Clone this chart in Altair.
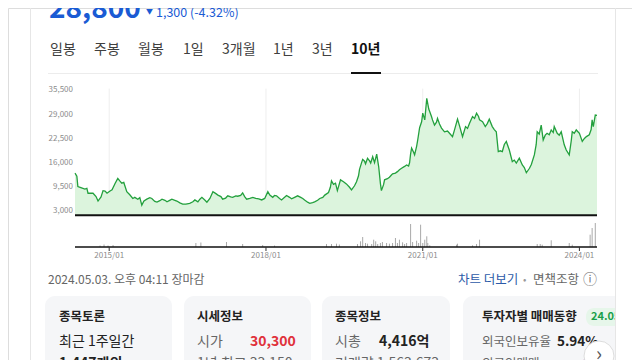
import altair as alt
import pandas as pd

FONT = "Noto Sans CJK KR"

# ---------------- data ----------------
dates = ["2014-05-07","2014-05-20","2014-05-27","2014-06-17","2014-07-15","2014-07-29","2014-08-06","2014-09-10","2014-10-01","2014-10-15",
 "2014-11-05","2014-11-19","2014-12-03","2014-12-17","2015-01-07","2015-01-21","2015-02-11","2015-03-02","2015-03-16","2015-03-30",
 "2015-04-13","2015-05-04","2015-05-25","2015-06-15","2015-06-29","2015-07-20","2015-08-03","2015-08-17","2015-09-01","2015-09-21",
 "2015-10-12","2015-10-26","2015-11-16","2015-12-01","2015-12-21","2016-01-05","2016-01-26","2016-02-09","2016-02-28","2016-03-14",
 "2016-04-04","2016-04-18","2016-05-09","2016-05-29","2016-06-20","2016-07-17","2016-08-08","2016-08-22","2016-09-12","2016-09-26",
 "2016-10-10","2016-11-01","2016-11-14","2016-12-05","2016-12-26","2017-01-16","2017-01-30","2017-02-20","2017-03-04","2017-03-25",
 "2017-04-09","2017-04-29","2017-05-13","2017-06-04","2017-06-17","2017-07-08","2017-07-22","2017-08-05","2017-08-19","2017-09-10",
 "2017-10-01","2017-10-21","2017-11-12","2017-12-02","2017-12-23","2018-01-14","2018-01-28","2018-02-17","2018-03-02","2018-03-16",
 "2018-04-06","2018-04-20","2018-05-11","2018-05-25","2018-06-15","2018-06-29","2018-07-20","2018-08-10","2018-09-01","2018-09-15",
 "2018-09-28","2018-10-19","2018-11-03","2018-11-23","2018-12-07","2018-12-28","2019-01-12","2019-02-02","2019-02-16","2019-03-14",
 "2019-03-27","2019-04-04","2019-04-18","2019-05-02","2019-05-15","2019-06-06","2019-06-27","2019-07-17","2019-08-08","2019-08-22",
 "2019-09-12","2019-09-26","2019-10-10","2019-10-17","2019-11-01","2019-11-08","2019-11-21","2019-11-28","2019-12-12","2019-12-26",
 "2020-01-03","2020-01-17","2020-01-30","2020-02-14","2020-02-28","2020-03-11","2020-03-18","2020-04-02","2020-04-09","2020-04-29",
 "2020-05-13","2020-05-27","2020-06-04","2020-06-24","2020-07-08","2020-07-22","2020-08-06","2020-08-27","2020-09-10","2020-09-24",
 "2020-10-01","2020-10-08","2020-10-15","2020-10-29","2020-11-05","2020-11-19","2020-11-26","2020-12-10","2020-12-24","2021-01-01",
 "2021-01-15","2021-01-22","2021-01-29","2021-02-12","2021-02-19","2021-03-03","2021-03-10","2021-03-24","2021-04-07","2021-04-14",
 "2021-04-28","2021-05-12","2021-06-02","2021-06-23","2021-07-07","2021-07-28","2021-08-11","2021-09-01","2021-09-15","2021-10-06",
 "2021-10-27","2021-11-10","2021-11-24","2021-12-15","2021-12-29","2022-01-12","2022-01-26","2022-02-02","2022-02-23","2022-03-14",
 "2022-03-28","2022-04-11","2022-05-02","2022-05-16","2022-05-30","2022-06-13","2022-06-27","2022-07-11","2022-07-25","2022-08-08",
 "2022-08-29","2022-09-19","2022-10-03","2022-10-17","2022-11-07","2022-11-28","2022-12-12","2022-12-26","2023-01-17","2023-01-30",
 "2023-02-20","2023-03-05","2023-03-12","2023-03-26","2023-04-09","2023-04-23","2023-05-07","2023-05-20","2023-06-04","2023-06-18",
 "2023-07-02","2023-07-09","2023-07-30","2023-08-13","2023-08-27","2023-09-17","2023-10-01","2023-10-22","2023-11-05","2023-11-12",
 "2023-11-26","2023-12-10","2024-01-01","2024-01-21","2024-02-05","2024-02-19","2024-03-10","2024-03-23","2024-03-30","2024-04-07",
 "2024-04-21","2024-05-03"]

prices = [13300,12500,9700,9400,9000,9200,7900,7900,7000,5800,
 6900,8600,8500,7900,8500,8800,10500,11900,11200,10600,
 10800,8300,7500,6500,6800,6300,6700,4700,5800,6300,
 6700,6500,5700,5500,5900,6300,6000,5600,6000,6300,
 6000,5800,5300,5000,5000,5200,5600,6100,5600,6300,
 6800,6000,5500,6500,8300,7800,7400,7000,6300,6600,
 7200,6900,6800,7200,7100,7300,8000,7000,6300,6500,
 6800,6500,6400,6100,6500,8300,7400,6800,7300,7200,
 6500,6100,6800,7300,6800,6400,6800,7200,6800,6500,
 6100,5500,5200,5400,5600,6000,6500,6800,7400,8100,
 9500,11200,10300,10600,8600,11500,11000,10400,9500,8800,
 9900,11000,12600,14300,16200,17000,16500,15800,17300,16600,
 16000,17700,16100,18400,15000,10500,8600,10200,11500,11800,
 12200,12800,13100,13300,13700,14200,14600,15100,15500,15200,
 16100,18500,20000,18900,18200,20500,22000,25500,27100,29400,
 27600,30500,33400,30500,29800,28500,27600,26200,27000,28000,
 26500,25400,24400,24600,24000,23100,24900,27800,26000,23100,
 25800,25300,26700,28500,28000,29400,28500,27600,27100,25800,
 26600,27800,25800,25000,24400,19100,19300,19100,21000,21800,
 19500,16400,16800,16000,17300,15500,14800,13400,14600,15600,
 18200,21000,24400,23800,26200,22200,23500,24000,23600,24900,
 24200,25800,24000,23500,24400,20900,19500,18200,22000,24400,
 24000,24900,24000,21800,22600,23100,23600,25000,27600,25800,
 28900,28800]

vol_dates = ["2014-10-29","2014-11-26","2014-12-24","2015-01-28","2016-08-29","2016-10-03","2017-03-31","2017-07-22","2017-12-09","2018-03-02",
 "2019-02-28","2019-04-04","2019-05-09","2019-05-29","2019-10-03","2019-10-24","2019-11-08","2019-11-28","2019-12-12","2020-01-10",
 "2020-01-24","2020-02-07","2020-02-21","2020-03-11","2020-03-25","2020-04-23","2020-05-13","2020-06-04","2020-06-24","2020-07-08",
 "2020-07-22","2020-08-13","2020-08-27","2020-09-10","2020-10-08","2020-10-22","2020-11-19","2020-12-03","2020-12-17","2021-01-01",
 "2021-01-15","2021-01-29","2021-02-05","2021-02-19","2021-08-25","2021-09-01","2021-12-15","2022-01-12","2022-02-02","2023-03-12",
 "2023-04-02","2023-04-16","2023-06-18","2023-10-22","2023-11-12","2024-03-16","2024-03-30","2024-04-21"]
vol_values = [150,250,150,200,400,450,500,300,200,150,
 300,300,330,250,300,570,1000,400,330,300,
 730,570,300,400,500,400,330,400,900,400,
 730,470,300,400,2300,500,630,400,2230,400,
 730,1070,400,170,230,330,170,300,730,300,
 300,230,670,400,230,1230,1900,2400]

y_ticks = [3000, 9500, 16000, 22500, 29000, 35500]
y_tick_labels = ["3,000", "9,500", "16,000", "22,500", "29,000", "35,500"]
x_ticks = ["2015-01-01", "2018-01-01", "2021-01-01", "2024-01-01"]
x_tick_labels = ["2015/01", "2018/01", "2021/01", "2024/01"]

tabs = ["일봉", "주봉", "월봉", "1일", "3개월", "1년", "3년", "10년"]

# ---------------- frames ----------------
price_df = pd.DataFrame({"date": dates, "price": prices})
vol_df = pd.DataFrame({"date": vol_dates, "volume": vol_values})
ytick_df = pd.DataFrame({"v": y_ticks, "label": y_tick_labels})
xtick_df = pd.DataFrame({"date": x_ticks, "label": x_tick_labels})
edge_df = pd.DataFrame({"date": [dates[0]], "date2": [dates[-1]]})
one = pd.DataFrame({"k": [0]})

O = 8  # page margin offset

xs = alt.Scale(domain=[alt.DateTime(year=2014, month=5, date=7), alt.DateTime(year=2024, month=5, date=3)],
               range=[75 - O, 597 - O])
ys = alt.Scale(domain=[2000, 36000], range=[215.2 - O, 88.6 - O], zero=False, nice=False)
vs = alt.Scale(domain=[0, 2400], range=[247 - O, 223 - O], zero=False, nice=False)

X = alt.X("date:T", scale=xs, axis=None)

FILL = "#dcf4dd"
LINE = "#23a03d"
BLUE = "#1a5bd4"

layers = []

# gridlines
layers.append(alt.Chart(ytick_df[ytick_df.v > 3000]).mark_rule(color="#eeeeee", strokeWidth=1).encode(
    y=alt.Y("v:Q", scale=ys, axis=None),
    x=alt.X("date:T", scale=xs, axis=None), x2="date2:T"
).transform_calculate(date="'" + dates[0] + "'", date2="'" + dates[-1] + "'"))
layers.append(alt.Chart(xtick_df).mark_rule(color="#eeeeee", strokeWidth=1).encode(
    x=X, y=alt.Y("lo:Q", scale=ys, axis=None), y2="hi:Q"
).transform_calculate(lo="2000", hi="36000"))

# price area + line
layers.append(alt.Chart(price_df).mark_area(color=FILL, opacity=1).encode(
    x=X, y=alt.Y("price:Q", scale=ys, axis=None), y2=alt.datum(2000)))
layers.append(alt.Chart(price_df).mark_line(color=LINE, strokeWidth=1.3).encode(
    x=X, y=alt.Y("price:Q", scale=ys, axis=None)))

# baseline of price panel
layers.append(alt.Chart(edge_df).mark_rule(color="#111111", strokeWidth=2).encode(
    x=X, x2="date2:T", y=alt.Y("b:Q", scale=ys, axis=None)).transform_calculate(b="2000"))

# y labels
layers.append(alt.Chart(ytick_df).mark_text(align="right", baseline="middle", fontSize=8, color="#8c8c8c", font=FONT).encode(
    x=alt.value(73 - O), y=alt.Y("v:Q", scale=ys, axis=None), text="label:N"))

# volume
layers.append(alt.Chart(vol_df).mark_rule(color="#a9a9a9", strokeWidth=1).encode(
    x=X, y=alt.Y("volume:Q", scale=vs, axis=None), y2=alt.datum(0)))
layers.append(alt.Chart(edge_df).mark_rule(color="#111111", strokeWidth=1.5).encode(
    x=X, x2="date2:T", y=alt.Y("b:Q", scale=vs, axis=None)).transform_calculate(b="0"))

# x ticks + labels
layers.append(alt.Chart(xtick_df).mark_rule(color="#333333", strokeWidth=1).encode(
    x=X, y=alt.value(247 - O), y2=alt.value(251 - O)))
layers.append(alt.Chart(xtick_df).mark_text(align="center", baseline="middle", fontSize=8, color="#8c8c8c", font=FONT).encode(
    x=X, y=alt.value(256 - O), text="label:N"))


def txt(s, x, y, size=12, color="#333333", weight="normal", align="left", baseline="middle"):
    return alt.Chart(one).mark_text(text=s, fontSize=size, color=color, fontWeight=weight, align=align,
                                    baseline=baseline, font=FONT).encode(x=alt.value(x - O), y=alt.value(y - O))


def box(x1, x2, y1, y2, color, r=0):
    return alt.Chart(one).mark_rect(color=color, cornerRadius=r).encode(
        x=alt.value(x1 - O), x2=alt.value(x2 - O), y=alt.value(y1 - O), y2=alt.value(y2 - O))


# frame
layers.append(box(30, 31, 8, 370, "#e6e6e6"))
layers.append(box(615, 616, 8, 370, "#e6e6e6"))

# header
layers.append(txt("28,800", 49, 18, size=28, color=BLUE, weight="bold", baseline="alphabetic"))
layers.append(txt("▼", 146, 12, size=7, color=BLUE))
layers.append(txt("1,300 (-4.32%)", 156, 17, size=12.5, color=BLUE, baseline="alphabetic"))

# tabs
tab_x = [50, 94, 138, 183, 222, 273, 312, 351]
for t, tx in zip(tabs, tab_x):
    if t == "10년":
        layers.append(txt(t, tx, 50, size=14, color="#111111", weight="bold"))
    else:
        layers.append(txt(t, tx, 50, size=14, color="#404040"))
layers.append(box(48, 598, 73, 74, "#ececec"))
layers.append(box(351, 381, 72, 74, "#111111"))

# footer line
layers.append(txt("2024.05.03. 오후 04:11 장마감", 48, 280, size=12, color="#666666"))
layers.append(txt("차트 더보기", 458, 280, size=12.5, color="#2c5aa8"))
layers.append(txt("•", 523, 280, size=10, color="#999999"))
layers.append(txt("면책조항", 533, 280, size=12.5, color="#666666"))
layers.append(txt("ⓘ", 590, 280, size=14, color="#777777", align="center"))

# cards
cards = [(45, 172), (184, 311), (322, 450), (463, 640)]
for cx1, cx2 in cards:
    layers.append(box(cx1, cx2, 296, 380, "#f5f6f8", r=10))

layers.append(txt("종목토론", 59, 317, size=12.5, color="#222222", weight="bold"))
layers.append(txt("최근 1주일간", 59, 342, size=14, color="#222222"))
layers.append(txt("1,447개의", 59, 364, size=14, color="#222222", weight="bold"))

layers.append(txt("시세정보", 197, 317, size=12.5, color="#222222", weight="bold"))
layers.append(txt("시가", 197, 342, size=14, color="#666666"))
layers.append(txt("30,300", 250, 342, size=14, color="#e0323c", weight="bold"))
layers.append(txt("1년 최고 33,150", 197, 364, size=14, color="#666666"))

layers.append(txt("종목정보", 335, 317, size=12.5, color="#222222", weight="bold"))
layers.append(txt("시총", 335, 342, size=14, color="#666666"))
layers.append(txt("4,416억", 379, 342, size=14, color="#222222", weight="bold"))
layers.append(txt("거래량 1,563,673", 335, 364, size=14, color="#666666"))

layers.append(txt("투자자별 매매동향", 482, 317, size=12.5, color="#222222", weight="bold"))
layers.append(box(586, 630, 308, 326, "#e6f6ea", r=8))
layers.append(txt("24.05.", 591, 317, size=11, color="#19a04a", weight="bold"))
layers.append(txt("외국인보유율", 482, 342, size=12.5, color="#666666"))
layers.append(txt("5.94%", 557, 342, size=13.5, color="#222222", weight="bold"))
layers.append(txt("외국인매매", 482, 364, size=12.5, color="#666666"))
layers.append(txt("-26", 578, 364, size=14, color="#1a5bd4", weight="bold"))

# right edge over card 4, then button
layers.append(box(616, 640, 290, 370, "#ffffff"))
layers.append(box(615, 616, 290, 370, "#e6e6e6"))
layers.append(alt.Chart(one).mark_circle(color="#ffffff", opacity=1, stroke="#dddddd", strokeWidth=1).encode(
    x=alt.value(599 - O), y=alt.value(356 - O), size=alt.value(900)))
layers.append(txt("›", 599, 355, size=20, color="#555555", align="center"))

chart = alt.layer(*layers).resolve_scale(y="independent").properties(
    width=624, height=352, autosize=alt.AutoSizeParams(type="none"), padding=0
).configure_view(stroke=None).configure(background="#ffffff")

chart.save("out.html", embed_options={"renderer": "svg", "actions": False})
